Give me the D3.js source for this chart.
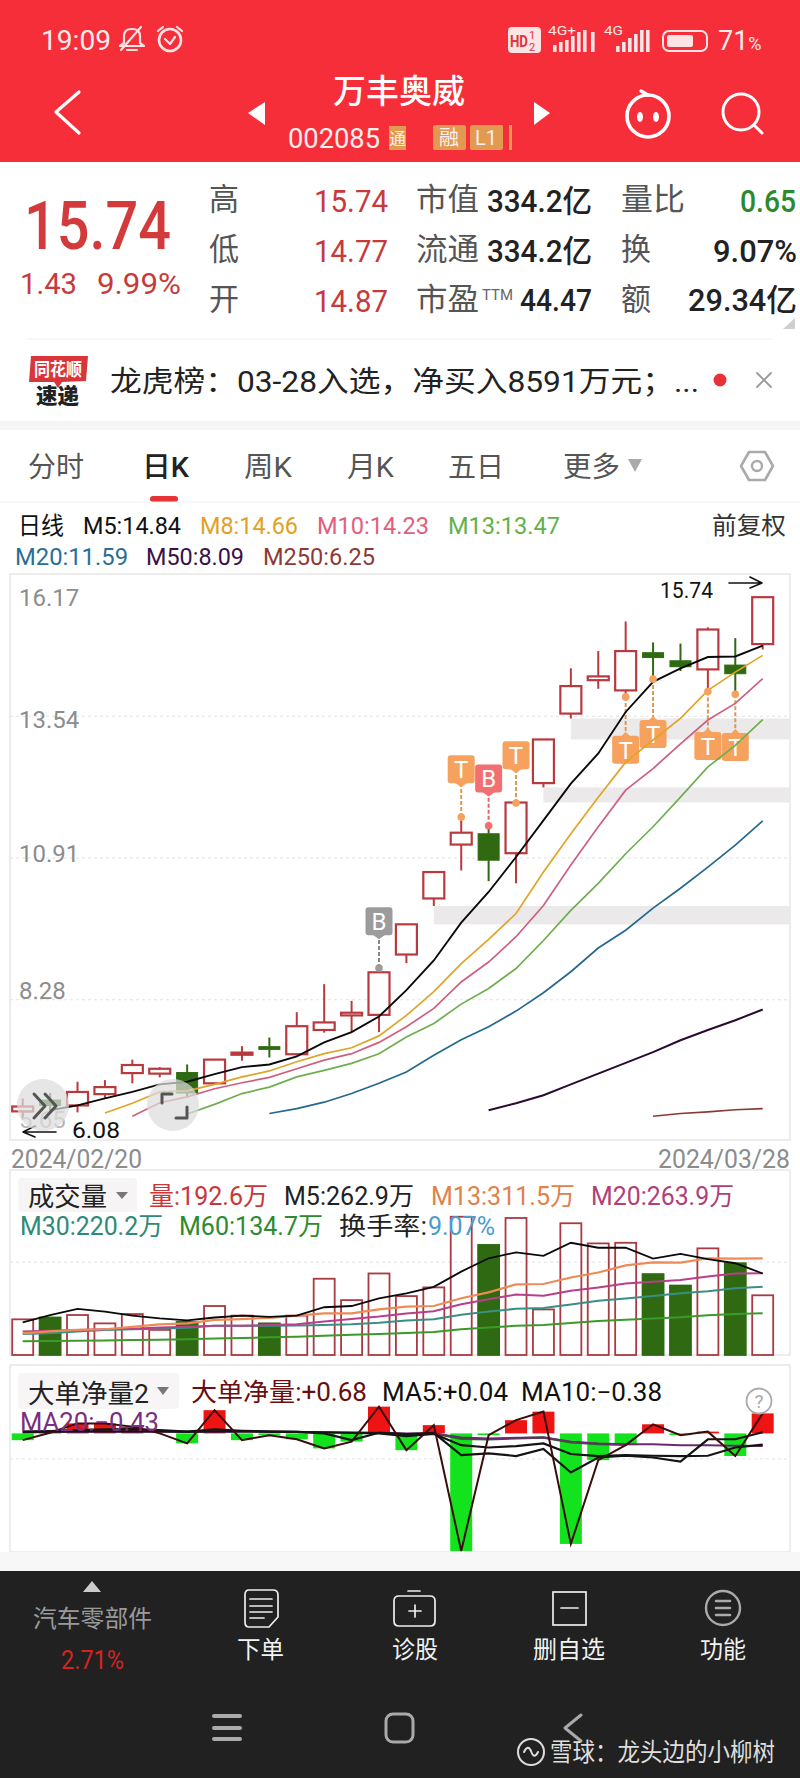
<!DOCTYPE html>
<html>
<head>
<meta charset="utf-8">
<script src="https://cdn.jsdelivr.net/npm/d3@7"></script>
<style>
  html, body { margin: 0; padding: 0; background: #fff; }
  svg { display: block; }
  text { font-family: Roboto, "Noto Sans CJK SC", sans-serif; }
</style>
</head>
<body>
<div id="chart"></div>
<script>
// trading days shown on the K chart
let dates = ['02/20','02/21','02/22','02/23','02/26','02/27','02/28','02/29','03/01','03/04','03/05','03/06','03/07','03/08','03/11','03/12','03/13','03/14','03/15','03/18','03/19','03/20','03/21','03/22','03/25','03/26','03/27','03/28']

let opens  = [6.20,6.41,6.31,6.52,6.91,6.90,6.92,6.72,7.25,7.40,7.26,7.71,7.98,7.99,9.11,10.15,11.15,11.35,10.99,12.29,13.58,14.20,14.01,14.71,14.56,14.40,14.48,14.87]
let closes = [6.29,6.31,6.56,6.65,7.06,6.99,6.54,7.16,7.29,7.35,7.78,7.85,8.03,8.78,9.67,10.64,11.37,10.86,11.93,13.10,14.09,14.27,14.74,14.62,14.45,15.14,14.32,15.74]
let highs  = [6.44,6.54,6.75,6.78,7.16,7.02,7.07,7.16,7.41,7.57,8.04,8.56,8.25,8.89,9.67,10.64,11.66,11.48,11.93,13.10,14.42,14.74,15.29,14.90,14.88,15.18,14.98,15.74]
let lows   = [6.08,6.18,6.18,6.44,6.72,6.83,6.46,6.71,7.14,7.20,7.24,7.66,7.67,7.67,8.95,10.01,10.67,10.47,10.43,12.21,13.49,14.04,13.92,14.20,14.37,13.98,13.92,14.77]

// moving averages, each with the index of its first visible day
let m5 = [6.22,6.31,6.44,6.56,6.70,6.75,6.89,7.02,7.07,7.22,7.48,7.67,7.96,8.45,9.00,9.70,10.27,10.92,11.60,12.28,12.84,13.61,14.17,14.42,14.63,14.64,14.84]
let m5Start = 1
let m8 = [6.17,6.35,6.56,6.58,6.70,6.84,6.95,7.12,7.27,7.38,7.60,7.98,8.42,8.94,9.39,9.87,10.64,11.35,12.03,12.68,13.09,13.49,14.01,14.35,14.66]
let m8Start = 3
let m10 = [6.11,6.36,6.47,6.62,6.73,6.83,6.99,7.15,7.27,7.48,7.77,8.11,8.60,8.97,9.44,10.02,10.77,11.48,12.16,12.56,13.02,13.46,13.77,14.23]
let m10Start = 4
let m13 = [6.15,6.33,6.53,6.65,6.84,6.96,7.09,7.27,7.58,7.83,8.19,8.48,8.85,9.37,9.93,10.43,10.98,11.48,12.03,12.59,12.99,13.47]
let m13Start = 6
let m20 = [6.16,6.25,6.37,6.53,6.72,6.93,7.24,7.53,7.77,8.06,8.40,8.79,9.23,9.56,9.97,10.34,10.73,11.14,11.59]
let m20Start = 9
let m50 = [6.22,6.35,6.50,6.70,6.90,7.10,7.30,7.52,7.71,7.89,8.09]
let m50Start = 17
let m250 = [6.11,6.16,6.19,6.23,6.25]
let m250Start = 23

let priceTicks = [16.17, 13.54, 10.91, 8.28, 5.65]

// unfilled gaps: first day, upper and lower price
let gapDays = [20, 19, 15]
let gapTops = [13.49, 12.21, 10.01]
let gapBottoms = [13.10, 11.93, 9.67]

// buy and sell flags
let flagDays = [13, 16, 17, 18, 22, 23, 25, 26]
let flagTypes = ['B', 'T', 'B', 'T', 'T', 'T', 'T', 'T']
let flagPrices = [8.86, 11.66, 11.50, 11.92, 13.89, 14.22, 13.99, 13.94]
let flagLabelPrices = [9.43, 12.25, 12.08, 12.51, 13.17, 13.46, 13.24, 13.22]

// volume in 万手
let volumes = [115,121,129,102,132,81,107,158,127,102,127,246,177,263,190,218,446,355,442,147,425,360,362,261,224,344,296,192.6]
let volM5 = [105,129,149,140,127,118,112,121,127,123,127,154,158,183,199,220,269,312,331,320,362,346,346,311,326,309,296,262.9]
let volM13 = [70,76,81,83,91,99,102,113,116,120,127,134,134,147,156,158,183,202,228,229,250,266,289,299,298,312,311,311.5]
let volM20 = [76,78,81,83,85,89,91,94,94,97,99,108,116,124,134,141,164,180,195,191,207,218,231,236,242,253,263,263.9]
let volM30 = [68,70,76,81,83,85,88,94,94,94,95,97,99,104,111,115,130,140,149,152,163,175,182,190,199,206,215,220.2]
let volM60 = [44,45,46,47,48,49,51,53,55,57,59,62,65,68,71,74,83,89,94,97,103,110,114,118,122,128,132,134.7]
let volGrid = [301]

// large order net volume
let netFlow = [-0.23,0.02,0.34,0.34,0.23,0,-0.34,0.79,-0.23,-0.06,-0.20,-0.51,-0.28,0.91,-0.57,0.28,-4.00,-0.06,0.45,0.74,-3.76,-0.91,-0.40,0.31,-0.06,0.06,-0.77,0.68]
let netMa5 = [0.06,0.08,0.11,0.14,0.15,0.11,0.06,0.14,0.09,0.06,0.05,0,-0.23,0.02,-0.02,0.02,-0.74,-0.68,-0.77,-0.53,-1.33,-0.82,-0.76,-0.82,-0.96,-0.20,-0.20,0.04]
let netMa10 = [0.05,0.06,0.07,0.07,0.07,0.07,0.06,0.07,0.07,0.06,0.05,0.03,0.02,0,-0.09,-0.02,-0.40,-0.48,-0.43,-0.34,-0.70,-0.77,-0.74,-0.76,-0.77,-0.76,-0.48,-0.38]
let netMa20 = [0.03,0.05,0.06,0.06,0.06,0.06,0.05,0.06,0.06,0.06,0.05,0.05,0.03,0.03,0,0,-0.14,-0.17,-0.15,-0.14,-0.28,-0.34,-0.37,-0.37,-0.40,-0.40,-0.42,-0.43]
// the unnamed green line that shows next to MA20 from 03/12 on
let netGreen = [0,-0.18,-0.20,-0.17,-0.14,-0.30,-0.36,-0.39]
let netGreenStart = 15
let netGrid = [-0.85]

let RED = '#b93a3e'
let DARK_GREEN = '#2f6a12'
let ORANGE = '#f6a25e'
let LEFT = 10
let RIGHT = 790

let svg = d3
  .select('#chart')
  .append('svg')
  .attr('width', 800)
  .attr('height', 1778)

let xPositionScale = d3.scalePoint().domain(dates).range([22.7, 762.7])
let yPrice = d3.scaleLinear().domain([5.65, 16.17]).range([1141, 574])
let yVolume = d3.scaleLinear().domain([0, 500]).range([1355, 1200])
let yNet = d3.scaleLinear().domain([-4, 0.68]).range([1551, 1413.4])

let xAt = i => xPositionScale(dates[i])

// all text goes through here, width squeezes the glyphs to the condensed app font
function label(g, x, y, str, size, color, width, anchor, weight) {
  let t = g
    .append('text')
    .attr('x', x)
    .attr('y', y)
    .attr('font-size', size)
    .attr('fill', color)
    .attr('text-anchor', anchor || 'start')
    .text(str)
  if (width) {
    t.attr('textLength', width).attr('lengthAdjust', 'spacingAndGlyphs')
  }
  if (weight) t.attr('font-weight', weight)
  return t
}

function icon(g, d, color, sw, fill) {
  return g
    .append('path')
    .attr('d', d)
    .attr('fill', fill || 'none')
    .attr('stroke', color)
    .attr('stroke-width', sw)
    .attr('stroke-linecap', 'round')
    .attr('stroke-linejoin', 'round')
}

/* ---------- red header ---------- */
let head = svg.append('g')
head.append('rect').attr('width', 800).attr('height', 162).attr('fill', '#f62e39')
label(head, 41, 50, '19:09', 28, '#fdecec', 70)
icon(head, 'M124 43 L124 36 Q124 29 132 29 Q140 29 140 36 L140 43 L144 46 L120 46 Z M127 50 L137 50', '#fde3e3', 2.2)
icon(head, 'M121 50 L141 27', '#fde3e3', 2.2)
head.append('circle').attr('cx', 170).attr('cy', 40).attr('r', 11).attr('fill', 'none').attr('stroke', '#fde3e3').attr('stroke-width', 2.6)
icon(head, 'M165 39 L170 44 L175 37 M158 31 L163 27 M182 31 L177 27', '#fde3e3', 2.2)
head.append('rect').attr('x', 508).attr('y', 27).attr('width', 33).attr('height', 26).attr('rx', 4).attr('fill', '#fbe4e4')
label(head, 510, 47, 'HD', 16, '#e0343e', 18, 'start', 700)
label(head, 529, 39, '1', 11, '#e0343e')
label(head, 529, 51, '2', 11, '#e0343e')
label(head, 548, 35, '4G+', 12, '#fde3e3', 28)
label(head, 604, 35, '4G', 12, '#fde3e3', 19)
;[[553, 45], [559, 42], [565, 40], [571, 36], [577, 32], [583, 30], [591, 32], [616, 46], [622, 42], [628, 38], [634, 34], [640, 30], [646, 30]]
  .forEach(b => {
    head.append('rect').attr('x', b[0]).attr('y', b[1]).attr('width', 3.6).attr('height', 52 - b[1]).attr('fill', '#fde3e3')
  })
head.append('rect').attr('x', 663).attr('y', 31).attr('width', 44).attr('height', 20).attr('rx', 6).attr('fill', 'none').attr('stroke', '#fde3e3').attr('stroke-width', 2)
head.append('rect').attr('x', 667).attr('y', 35).attr('width', 26).attr('height', 12).attr('rx', 2).attr('fill', '#fde3e3')
let battery = label(head, 718, 50, '71', 27, '#fdecec')
battery.append('tspan').attr('font-size', 18).text('%')

label(head, 399, 103, '万丰奥威', 33, '#fff', 132, 'middle', 500)
icon(head, 'M79 92 L56 112 L79 133', '#fff', 3.2)
head.append('path').attr('d', 'M265 102 L248 113 L265 125 Z').attr('fill', '#fff')
head.append('path').attr('d', 'M534 102 L550 113 L534 125 Z').attr('fill', '#fff')
label(head, 288, 148, '002085', 28, '#fdeeee', 92)
head.append('rect').attr('x', 389).attr('y', 126).attr('width', 17).attr('height', 24).attr('fill', '#e19a50')
label(head, 389, 145, '通', 17, '#fdeeee', 17)
head.append('rect').attr('x', 433).attr('y', 125).attr('width', 33).attr('height', 25).attr('rx', 2).attr('fill', '#e19a50')
label(head, 449, 145, '融', 20, '#fdeeee', null, 'middle')
head.append('rect').attr('x', 470).attr('y', 125).attr('width', 33).attr('height', 25).attr('rx', 2).attr('fill', '#e19a50')
label(head, 486, 145, 'L1', 20, '#fdeeee', null, 'middle')
head.append('rect').attr('x', 509).attr('y', 125).attr('width', 3).attr('height', 25).attr('fill', '#e19a50')
// robot and search icons
head.append('circle').attr('cx', 648).attr('cy', 116).attr('r', 21).attr('fill', 'none').attr('stroke', '#fff').attr('stroke-width', 3.6)
icon(head, 'M648 95 L641 91', '#fff', 3.4)
head.append('ellipse').attr('cx', 640).attr('cy', 117).attr('rx', 3).attr('ry', 5).attr('fill', '#fff')
head.append('ellipse').attr('cx', 656).attr('cy', 117).attr('rx', 3).attr('ry', 5).attr('fill', '#fff')
head.append('circle').attr('cx', 741).attr('cy', 112).attr('r', 18).attr('fill', 'none').attr('stroke', '#fff').attr('stroke-width', 3)
icon(head, 'M754 125 L762 133', '#fff', 3)

/* ---------- quote block ---------- */
let quote = svg.append('g')
label(quote, 24, 249, '15.74', 67, '#d23a3c', 147, 'start', 500)
label(quote, 20, 294, '1.43', 30, '#c8393b', 57)
label(quote, 97, 294, '9.99%', 30, '#c8393b', 84)

let quoteRows = [213, 263, 313]
;['高', '低', '开'].forEach((s, i) => label(quote, 209, quoteRows[i] - 3, s, 31, '#555', 30))
;['15.74', '14.77', '14.87'].forEach((s, i) => label(quote, 314, quoteRows[i] - 1, s, 32, '#c8393b', 74))
;['市值', '流通', '市盈'].forEach((s, i) => label(quote, 416, quoteRows[i] - 3, s, 31, '#555', 63))
label(quote, 482, 300, 'TTM', 14, '#666', 31)
label(quote, 487, 212, '334.2亿', 31, '#222', 105, 'start', 500)
label(quote, 487, 262, '334.2亿', 31, '#222', 105, 'start', 500)
label(quote, 520, 311, '44.47', 31, '#222', 72, 'start', 500)
label(quote, 621, 210, '量比', 31, '#555', 64)
label(quote, 621, 260, '换', 31, '#555', 30)
label(quote, 621, 310, '额', 31, '#555', 30)
label(quote, 740, 212, '0.65', 31, '#2c8a2c', 56, 'start', 500)
label(quote, 713, 262, '9.07%', 31, '#222', 84, 'start', 500)
label(quote, 688, 311, '29.34亿', 31, '#222', 109, 'start', 500)
quote.append('path').attr('d', 'M795 318 L795 329 L783 329 Z').attr('fill', '#cfcfcf')
quote.append('line').attr('x1', 26).attr('x2', 773).attr('y1', 339).attr('y2', 339).attr('stroke', '#f0f0f0')

quote.append('path').attr('d', 'M31 356 L88 356 L86 381 L62 382 L58 388 L54 382 L29 382 Z').attr('fill', '#d8363a')
label(quote, 34, 376, '同花顺', 18, '#fff', 48, 'start', 700)
label(quote, 36, 403, '速递', 21, '#222', 43, 'start', 900)
label(quote, 110, 392, '龙虎榜：03-28入选，净买入8591万元；...', 29, '#222', 589)
quote.append('circle').attr('cx', 720).attr('cy', 380).attr('r', 6.5).attr('fill', '#e63236')
icon(quote, 'M757 373 L771 387 M771 373 L757 387', '#999', 1.8)
quote.append('rect').attr('y', 421).attr('width', 800).attr('height', 9).attr('fill', '#f5f5f5')

/* ---------- period tabs ---------- */
let tabs = svg.append('g')
label(tabs, 28, 477, '分时', 28, '#555', 56)
label(tabs, 142, 477, '日K', 28, '#222', 47, 'start', 500)
label(tabs, 244, 477, '周K', 28, '#555', 48)
label(tabs, 347, 477, '月K', 28, '#555', 47)
label(tabs, 448, 477, '五日', 28, '#555', 56)
label(tabs, 563, 477, '更多', 28, '#555', 57)
tabs.append('path').attr('d', 'M628 459 L642 459 L635 472 Z').attr('fill', '#aaa')
icon(tabs, 'M749 452 L765 452 L773 466 L765 480 L749 480 L741 466 Z', '#aaa', 2.6)
tabs.append('circle').attr('cx', 757).attr('cy', 466).attr('r', 5).attr('fill', 'none').attr('stroke', '#aaa').attr('stroke-width', 2.4)
tabs.append('rect').attr('x', 150).attr('y', 496).attr('width', 28).attr('height', 6).attr('rx', 3).attr('fill', '#e53338')
tabs.append('line').attr('x1', 0).attr('x2', 800).attr('y1', 502).attr('y2', 502).attr('stroke', '#eee')

label(tabs, 18, 534, '日线', 24, '#111', 46)
label(tabs, 83, 534, 'M5:14.84', 24, '#111', 98)
label(tabs, 200, 534, 'M8:14.66', 24, '#e0a223', 98)
label(tabs, 317, 534, 'M10:14.23', 24, '#e0607e', 112)
label(tabs, 448, 534, 'M13:13.47', 24, '#63b04a', 112)
label(tabs, 712, 534, '前复权', 24, '#333', 74)
label(tabs, 15, 565, 'M20:11.59', 24, '#2a6e98', 113)
label(tabs, 146, 565, 'M50:8.09', 24, '#3a1048', 98)
label(tabs, 263, 565, 'M250:6.25', 24, '#8e3a34', 112)

/* ---------- K chart ---------- */
let kChart = svg.append('g')
kChart.append('rect')
  .attr('x', LEFT).attr('y', 574).attr('width', RIGHT - LEFT).attr('height', 566)
  .attr('fill', 'none').attr('stroke', '#e6e6e6').attr('stroke-width', 1.5)

// grid lines and price labels from the axis, the app nudges each label off its line
let priceAxis = d3.axisRight(yPrice).tickValues(priceTicks).tickSize(RIGHT - LEFT).tickFormat(d3.format('.2f'))
let priceAxisG = kChart.append('g').attr('transform', `translate(${LEFT},0)`).call(priceAxis)
let priceLabelShift = [31, 12, 4, -1, -14]
priceAxisG.select('.domain').remove()
priceAxisG.selectAll('line').attr('stroke', '#e2e2e2').attr('stroke-dasharray', '3,3')
priceAxisG.selectAll('text')
  .attr('x', 9)
  .attr('dy', (d, i) => priceLabelShift[i])
  .attr('font-size', 24)
  .attr('fill', d => (d === 5.65 ? '#b5b5b5' : '#8c8c8c'))
  .style('font-family', 'Roboto')
priceAxisG.selectAll('.tick').filter(d => d === 16.17 || d === 5.65).select('line').remove()

// gaps
kChart.selectAll('.gap')
  .data(gapDays)
  .enter()
  .append('rect')
  .attr('class', 'gap')
  .attr('x', d => xAt(d))
  .attr('y', (d, i) => yPrice(gapTops[i]))
  .attr('width', d => RIGHT - xAt(d))
  .attr('height', (d, i) => yPrice(gapBottoms[i]) - yPrice(gapTops[i]))
  .attr('fill', '#ece9eb')

// flags sit under the moving averages
function flagColor(i) {
  if (flagDays[i] === 13) return '#9c9c9c'
  return flagTypes[i] === 'B' ? '#f46f6f' : ORANGE
}
flagDays.forEach((day, i) => {
  let cx = xAt(day)
  let y0 = yPrice(flagPrices[i])
  let y1 = yPrice(flagLabelPrices[i])
  let color = flagColor(i)
  let above = y1 < y0 // tag above its dot, pointer down
  kChart.append('line')
    .attr('x1', cx).attr('x2', cx).attr('y1', y0).attr('y2', y1)
    .attr('stroke', i === 0 ? '#888' : i === 2 ? '#e06a6a' : '#d89a58').attr('stroke-width', 2).attr('stroke-dasharray', '4,2')
  let tagY = above ? y1 - 30 : y1
  kChart.append('rect')
    .attr('x', cx - 13.5).attr('y', tagY).attr('width', 27).attr('height', 28).attr('rx', 3).attr('fill', color)
  let tip = above ? y1 + 2 : y1 - 4
  let base = above ? y1 - 3 : y1 + 3
  kChart.append('path')
    .attr('d', `M${cx - 7} ${base} L${cx} ${tip} L${cx + 7} ${base} Z`)
    .attr('fill', color)
  label(kChart, cx, tagY + 23, flagTypes[i], 24, '#fff', null, 'middle')
})

// candles
let candles = kChart.selectAll('.candle')
  .data(dates)
  .enter()
  .append('g')
  .attr('class', 'candle')
  .each(function(d, i) {
    let g = d3.select(this)
    let up = closes[i] >= opens[i]
    let color = up ? RED : DARK_GREEN
    let cx = xPositionScale(d)
    let top = yPrice(Math.max(opens[i], closes[i]))
    let bottom = yPrice(Math.min(opens[i], closes[i]))
    g.append('line')
      .attr('x1', cx).attr('x2', cx)
      .attr('y1', yPrice(highs[i])).attr('y2', top)
      .attr('stroke', color).attr('stroke-width', 2)
    g.append('line')
      .attr('x1', cx).attr('x2', cx)
      .attr('y1', bottom).attr('y2', yPrice(lows[i]))
      .attr('stroke', color).attr('stroke-width', 2)
    g.append('rect')
      .attr('x', cx - 10.5).attr('width', 21)
      .attr('y', top).attr('height', Math.max(bottom - top, 1))
      .attr('fill', up ? '#fff' : color)
      .attr('stroke', color).attr('stroke-width', up ? 2.2 : 1)
  })

// moving averages
let priceLine = d3.line().x(d => xAt(d.i)).y(d => yPrice(d.v))
function drawPriceMa(values, start, color, sw) {
  kChart.append('path')
    .datum(values.map((v, k) => ({ i: start + k, v: v })))
    .attr('d', priceLine)
    .attr('fill', 'none')
    .attr('stroke', color)
    .attr('stroke-width', sw)
}
drawPriceMa(m250, m250Start, '#8a3a36', 1.6)
drawPriceMa(m50, m50Start, '#2a0a30', 2)
drawPriceMa(m20, m20Start, '#24688e', 1.7)
drawPriceMa(m13, m13Start, '#6eae4e', 1.7)
drawPriceMa(m10, m10Start, '#cf5f7f', 1.7)
drawPriceMa(m8, m8Start, '#e0a428', 1.7)
drawPriceMa(m5, m5Start, '#0a0a0a', 1.9)

// flag dots go over candles and lines
kChart.selectAll('.flag-dot')
  .data(flagDays)
  .enter()
  .append('circle')
  .attr('class', 'flag-dot')
  .attr('cx', d => xAt(d))
  .attr('cy', (d, i) => yPrice(flagPrices[i]))
  .attr('r', 3.8)
  .attr('fill', (d, i) => flagColor(i))

// high and low callouts
label(kChart, 660, 598, '15.74', 22, '#111', 53)
icon(kChart, 'M729 583 L762 583 M750 577 L762 583 L750 588', '#111', 1.6)
label(kChart, 72, 1138, '6.08', 22, '#111', 48)
icon(kChart, 'M56 1132 L23 1132 M35 1126 L23 1132 L35 1137', '#111', 1.6)

// floating buttons over the chart
kChart.append('circle').attr('cx', 43).attr('cy', 1105).attr('r', 26).attr('fill', '#dcdcdc').attr('fill-opacity', 0.72)
icon(kChart, 'M34 1094 L45 1106 L34 1118 M45 1094 L56 1106 L45 1118', '#555', 3)
kChart.append('circle').attr('cx', 173).attr('cy', 1105).attr('r', 26).attr('fill', '#dcdcdc').attr('fill-opacity', 0.72)
icon(kChart, 'M162 1103 L162 1094 L172 1094 M187 1107 L187 1118 L176 1118', '#555', 3)

label(kChart, 11, 1168, '2024/02/20', 25, '#8c8c8c', 131)
label(kChart, 790, 1168, '2024/03/28', 25, '#8c8c8c', 132, 'end')

/* ---------- volume panel ---------- */
let volPanel = svg.append('g')
volPanel.append('rect')
  .attr('x', LEFT).attr('y', 1170).attr('width', RIGHT - LEFT).attr('height', 185)
  .attr('fill', 'none').attr('stroke', '#e8e8e8').attr('stroke-width', 1.5)
let volAxisG = volPanel.append('g')
  .attr('transform', `translate(${LEFT},0)`)
  .call(d3.axisRight(yVolume).tickValues(volGrid).tickSize(RIGHT - LEFT).tickFormat(''))
volAxisG.select('.domain').remove()
volAxisG.selectAll('line').attr('stroke', '#e2e2e2').attr('stroke-dasharray', '3,3')

volPanel.selectAll('.vol')
  .data(volumes)
  .enter()
  .append('rect')
  .attr('class', 'vol')
  .attr('x', (d, i) => xAt(i) - 10.5)
  .attr('width', 21)
  .attr('y', d => yVolume(d))
  .attr('height', d => yVolume(0) - yVolume(d))
  .attr('fill', (d, i) => (closes[i] >= opens[i] ? 'none' : DARK_GREEN))
  .attr('stroke', (d, i) => (closes[i] >= opens[i] ? '#a83a42' : DARK_GREEN))
  .attr('stroke-width', 1.8)

let volLine = d3.line().x((d, i) => xAt(i)).y(d => yVolume(d))
function drawVolMa(values, color, sw) {
  volPanel.append('path')
    .datum(values)
    .attr('d', volLine)
    .attr('fill', 'none')
    .attr('stroke', color)
    .attr('stroke-width', sw)
}
drawVolMa(volM60, '#3c9a2c', 2)
drawVolMa(volM30, '#3a8f85', 2)
drawVolMa(volM20, '#b8408a', 2)
drawVolMa(volM13, '#ee8a55', 2.2)
drawVolMa(volM5, '#0a0a0a', 1.8)

volPanel.append('rect').attr('x', 18).attr('y', 1178).attr('width', 119).attr('height', 34).attr('rx', 4).attr('fill', '#f6f4f4')
label(volPanel, 28, 1206, '成交量', 26, '#222', 79)
volPanel.append('path').attr('d', 'M116 1192 L128 1192 L122 1199 Z').attr('fill', '#777')
label(volPanel, 149, 1205, '量:192.6万', 25, '#c8373a', 119)
label(volPanel, 284, 1205, 'M5:262.9万', 25, '#222', 130)
label(volPanel, 431, 1205, 'M13:311.5万', 25, '#e0824c', 144)
label(volPanel, 591, 1205, 'M20:263.9万', 25, '#b0407a', 143)
label(volPanel, 20, 1235, 'M30:220.2万', 25, '#2e8a78', 143)
label(volPanel, 179, 1235, 'M60:134.7万', 25, '#2e8a2e', 144)
label(volPanel, 339, 1235, '换手率:', 25, '#222', 88)
label(volPanel, 428, 1235, '9.07%', 25, '#4a9ccc', 67)

/* ---------- large order panel ---------- */
let netPanel = svg.append('g')
netPanel.append('rect')
  .attr('x', LEFT).attr('y', 1365).attr('width', RIGHT - LEFT).attr('height', 187)
  .attr('fill', 'none').attr('stroke', '#e8e8e8').attr('stroke-width', 1.5)
let netAxisG = netPanel.append('g')
  .attr('transform', `translate(${LEFT},0)`)
  .call(d3.axisRight(yNet).tickValues(netGrid).tickSize(RIGHT - LEFT).tickFormat(''))
netAxisG.select('.domain').remove()
netAxisG.selectAll('line').attr('stroke', '#e2e2e2').attr('stroke-dasharray', '3,3')

netPanel.selectAll('.net')
  .data(netFlow)
  .enter()
  .append('rect')
  .attr('class', 'net')
  .attr('x', (d, i) => xAt(i) - 11)
  .attr('width', 22)
  .attr('y', d => yNet(Math.max(d, 0)))
  .attr('height', d => Math.abs(yNet(d) - yNet(0)))
  .attr('fill', d => (d >= 0 ? '#ee1414' : '#13e31d'))

let netLine = d3.line().x((d, i) => xAt(i)).y(d => yNet(d))
function drawNetLine(values, color, sw) {
  netPanel.append('path')
    .datum(values)
    .attr('d', netLine)
    .attr('fill', 'none')
    .attr('stroke', color)
    .attr('stroke-width', sw)
}
netPanel.append('path')
  .datum(netGreen)
  .attr('d', d3.line().x((d, i) => xAt(netGreenStart + i)).y(d => yNet(d)))
  .attr('fill', 'none')
  .attr('stroke', '#1f6a1f')
  .attr('stroke-width', 2.4)
drawNetLine(netMa20, '#6b2a70', 2)
drawNetLine(netMa10, '#141414', 2.2)
drawNetLine(netMa5, '#141414', 2.2)
drawNetLine(netFlow, '#3a0c0c', 2)

netPanel.append('rect').attr('x', 18).attr('y', 1373).attr('width', 161).attr('height', 36).attr('rx', 4).attr('fill', '#f6f4f4').attr('fill-opacity', 0.9)
label(netPanel, 28, 1403, '大单净量2', 26, '#222', 121)
netPanel.append('path').attr('d', 'M157 1387 L169 1387 L163 1395 Z').attr('fill', '#777')
label(netPanel, 191, 1401, '大单净量:+0.68', 25, '#6a0f0f', 176)
label(netPanel, 382, 1401, 'MA5:+0.04', 25, '#111', 126)
label(netPanel, 521, 1401, 'MA10:−0.38', 25, '#111', 141)
label(netPanel, 20, 1431, 'MA20:−0.43', 25, '#7a2f80', 139)
netPanel.append('circle').attr('cx', 759).attr('cy', 1401).attr('r', 12.5).attr('fill', 'none').attr('stroke', '#aaa').attr('stroke-width', 1.8)
label(netPanel, 759, 1408, '?', 19, '#aaa', null, 'middle')

/* ---------- bottom bar ---------- */
let bottom = svg.append('g')
bottom.append('rect').attr('y', 1552).attr('width', 800).attr('height', 19).attr('fill', '#f7f7f7')
bottom.append('rect').attr('y', 1571).attr('width', 800).attr('height', 207).attr('fill', '#212121')
bottom.append('path').attr('d', 'M92 1581 L101 1592 L83 1592 Z').attr('fill', '#ccc')
label(bottom, 33, 1627, '汽车零部件', 24, '#9a9a9a', 119)
label(bottom, 61, 1669, '2.71%', 25, '#d32424', 63)

icon(bottom, 'M249 1590 L273 1590 Q278 1590 278 1595 L278 1617 L269 1627 L249 1627 Q245 1627 245 1622 L245 1595 Q245 1590 249 1590 Z M250 1599 L272 1599 M250 1606 L272 1606 M250 1612 L272 1612 M250 1618 L264 1618', '#eee', 1.7)
icon(bottom, 'M399 1596 L430 1596 Q435 1596 435 1601 L435 1621 Q435 1626 430 1626 L399 1626 Q394 1626 394 1621 L394 1601 Q394 1596 399 1596 Z M408 1591 L420 1591 M415 1605 L415 1617 M409 1611 L421 1611', '#eee', 1.7)
bottom.append('rect').attr('x', 553).attr('y', 1592).attr('width', 33).attr('height', 33).attr('fill', 'none').attr('stroke', '#eee').attr('stroke-width', 1.7)
icon(bottom, 'M561 1608 L578 1608', '#eee', 1.7)
bottom.append('circle').attr('cx', 723).attr('cy', 1608).attr('r', 17).attr('fill', 'none').attr('stroke', '#aaa').attr('stroke-width', 2.4)
icon(bottom, 'M716 1601 L730 1601 M716 1608 L730 1608 M716 1615 L730 1615', '#aaa', 2.6)

label(bottom, 237, 1658, '下单', 24, '#f2f2f2', 47)
label(bottom, 392, 1658, '诊股', 24, '#f2f2f2', 46)
label(bottom, 533, 1658, '删自选', 24, '#f2f2f2', 72)
label(bottom, 700, 1658, '功能', 24, '#f2f2f2', 46)

icon(bottom, 'M214 1716 L240 1716 M214 1728 L240 1728 M214 1739 L240 1739', '#aaa', 4)
bottom.append('rect').attr('x', 386).attr('y', 1714).attr('width', 27).attr('height', 28).attr('rx', 7).attr('fill', 'none').attr('stroke', '#aaa').attr('stroke-width', 3)
icon(bottom, 'M581 1715 L565 1728 L581 1741', '#aaa', 3)

bottom.append('circle').attr('cx', 531).attr('cy', 1752).attr('r', 13).attr('fill', 'none').attr('stroke', '#ddd').attr('stroke-width', 2)
icon(bottom, 'M524 1752 Q528 1744 531 1751 Q534 1760 538 1752', '#ddd', 2)
label(bottom, 550, 1761, '雪球：龙头边的小柳树', 25, '#dedede', 225)
</script>
</body>
</html>
